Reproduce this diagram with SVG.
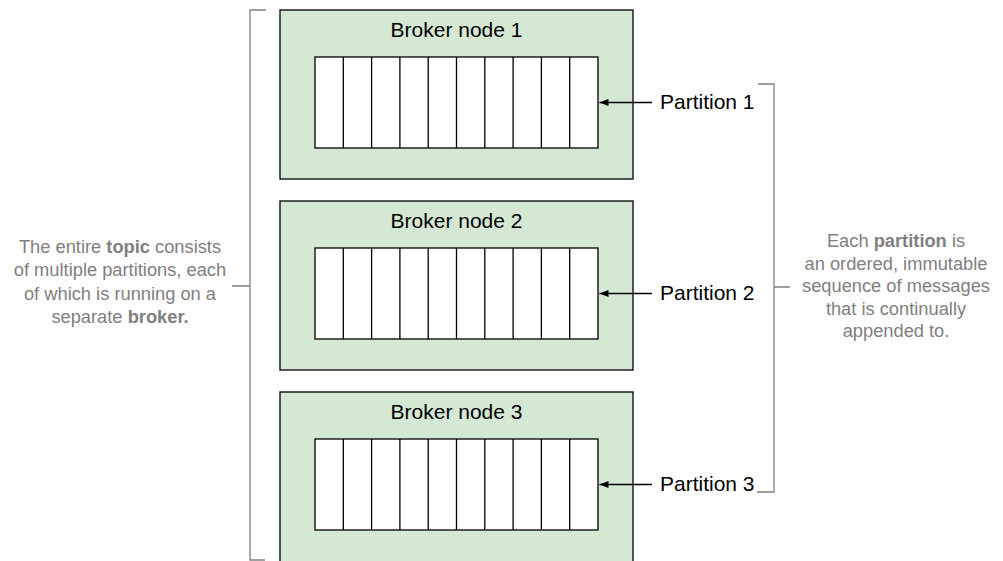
<svg xmlns="http://www.w3.org/2000/svg" width="1003" height="561" viewBox="0 0 1003 561">
<defs>
<style>
.broker{fill:#d5e8d4;stroke:#000;stroke-width:1.3}
.cell{fill:#fff;stroke:#000;stroke-width:1.3}
.title{font-family:"Liberation Sans",Arial,sans-serif;font-size:21px;fill:#000;text-anchor:middle}
.plabel{font-family:"Liberation Sans",Arial,sans-serif;font-size:21px;fill:#000}
.note{font-family:"Liberation Sans",Arial,sans-serif;font-size:18.3px;fill:#808080;text-anchor:middle}
.bracket{fill:none;stroke:#808080;stroke-width:1.3}
.arrow{stroke:#000;stroke-width:1.3;fill:none}
</style>
<marker id="ah" markerWidth="10" markerHeight="8" refX="9" refY="4" orient="auto" markerUnits="userSpaceOnUse">
<path d="M0,0.5 L9,4 L0,7.5 Z" fill="#000"/>
</marker>
<g id="cells">
<rect class="cell" x="0" y="0" width="283" height="91"/>
<path d="M28.3,0V91M56.6,0V91M84.9,0V91M113.2,0V91M141.5,0V91M169.8,0V91M198.1,0V91M226.4,0V91M254.7,0V91" stroke="#000" stroke-width="1.3"/>
</g>
</defs>
<rect width="1003" height="561" fill="#fff"/>

<g id="broker1">
<rect class="broker" x="280" y="10" width="353" height="169"/>
<text class="title" x="456.5" y="37">Broker node 1</text>
<use href="#cells" x="315" y="57"/>
</g>
<g id="broker2">
<rect class="broker" x="280" y="201" width="353" height="169"/>
<text class="title" x="456.5" y="228">Broker node 2</text>
<use href="#cells" x="315" y="248"/>
</g>
<g id="broker3">
<rect class="broker" x="280" y="392" width="353" height="180"/>
<text class="title" x="456.5" y="419">Broker node 3</text>
<use href="#cells" x="315" y="439"/>
</g>

<g id="partition1"><text class="plabel" x="660" y="109">Partition 1</text></g>
<g id="partition2"><text class="plabel" x="660" y="300">Partition 2</text></g>
<g id="partition3"><text class="plabel" x="660" y="491">Partition 3</text></g>

<g id="topic-note">
<text class="note" x="120" y="252.5">The entire <tspan font-weight="bold">topic</tspan> consists</text>
<text class="note" x="120" y="276">of multiple partitions, each</text>
<text class="note" x="120" y="299.5">of which is running on a</text>
<text class="note" x="120" y="323">separate <tspan font-weight="bold">broker.</tspan></text>
</g>
<g id="partition-note">
<text class="note" x="896" y="247">Each <tspan font-weight="bold">partition</tspan> is</text>
<text class="note" x="896" y="269.5">an ordered, immutable</text>
<text class="note" x="896" y="292">sequence of messages</text>
<text class="note" x="896" y="314.5">that is continually</text>
<text class="note" x="896" y="337">appended to.</text>
</g>

<g id="connectors">
<path class="bracket" d="M266,10H250V560H265M232,286H250"/>
<path class="bracket" d="M758,84H774V492H757M774,287H790"/>
<line class="arrow" x1="652" y1="102.5" x2="599.5" y2="102.5" marker-end="url(#ah)"/>
<line class="arrow" x1="652" y1="293.5" x2="599.5" y2="293.5" marker-end="url(#ah)"/>
<line class="arrow" x1="652" y1="484.5" x2="599.5" y2="484.5" marker-end="url(#ah)"/>
</g>
</svg>
